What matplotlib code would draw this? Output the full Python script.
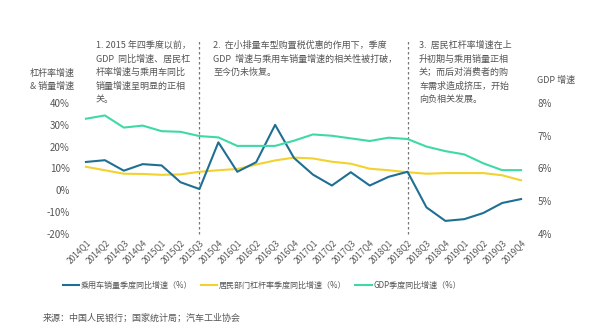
import matplotlib.pyplot as plt

plt.rcParams["font.family"] = ["Noto Sans CJK SC", "DejaVu Sans"]
plt.rcParams["axes.unicode_minus"] = False

# ── Data ───────────────────────────────────
quarters = [f"{y}Q{q}" for y in range(2014, 2020) for q in range(1, 5)]
car_sales = [13.0, 13.8, 9.0, 12.0, 11.4, 3.7, 0.6, 22.0, 8.5, 12.9, 30.0, 14.8,
             7.2, 2.2, 8.3, 2.2, 6.2, 8.5, -7.8, -14.0, -13.2, -10.4, -5.8, -4.0]
leverage = [10.8, 9.2, 7.6, 7.5, 7.1, 7.3, 8.5, 9.2, 9.8, 11.8, 13.7, 15.0,
            14.6, 13.1, 12.2, 9.9, 9.2, 8.3, 7.6, 7.9, 7.9, 7.9, 6.9, 4.6]
gdp = [7.52, 7.62, 7.25, 7.31, 7.14, 7.12, 6.99, 6.95, 6.69, 6.69, 6.69, 6.85,
       7.04, 7.00, 6.92, 6.84, 6.94, 6.90, 6.67, 6.53, 6.43, 6.16, 5.95, 5.95]
split_idx = [6, 17]

BLUE = "#1f6f93"
YELLOW = "#f2d22e"
GREEN = "#3fd9a6"
TXT = "#555555"

fig = plt.figure(figsize=(6.0, 3.27), dpi=100, facecolor="white")
ax = fig.add_axes([76.5 / 600, 1 - 234 / 327, 454 / 600, 131 / 327])
ax2 = ax.twinx()

x = list(range(len(quarters)))
l1, = ax.plot(x, car_sales, color=BLUE, lw=1.5, zorder=3)
l2, = ax.plot(x, leverage, color=YELLOW, lw=1.5, zorder=2)
l3, = ax2.plot(x, gdp, color=GREEN, lw=1.5, zorder=2)

ax.set_xlim(-0.5, len(quarters) - 0.5)
ax.set_ylim(-20, 40)
ax2.set_ylim(4, 8)
ax.set_yticks(range(-20, 41, 10))
ax.set_yticklabels([f"{v}%" for v in range(-20, 41, 10)])
ax2.set_yticks([4, 5, 6, 7, 8])
ax2.set_yticklabels([f"{v}%" for v in [4, 5, 6, 7, 8]])
ax.set_xticks(x)
ax.set_xticklabels(quarters, rotation=45, ha="right", rotation_mode="anchor")

for a in (ax, ax2):
    for s in a.spines.values():
        s.set_visible(False)
    a.tick_params(length=0, labelsize=7, colors=TXT, pad=5)
ax.tick_params(axis="x", labelsize=6, pad=3)

# dashed separators (extend above the plot)
for i in split_idx:
    ax.plot([i, i], [-20, 40 + 60 * 63 / 131], color="#777777", lw=0.9,
            ls=(0, (2, 2)), clip_on=False, zorder=1)

# axis headers
fig.text(52 / 600, 1 - 73 / 327, "杠杆率增速", fontsize=6.5, color=TXT, ha="center", va="center")
fig.text(52 / 600, 1 - 86 / 327, "& 销量增速", fontsize=6.5, color=TXT, ha="center", va="center")
fig.text(537 / 600, 1 - 80 / 327, "GDP 增速", fontsize=6.5, color=TXT, ha="left", va="center")

# annotations
notes = [
    (96, ["1. 2015 年四季度以前，", "GDP  同比增速、居民杠", "杆率增速与乘用车同比",
          "销量增速呈明显的正相", "关。"]),
    (213, ["2.  在小排量车型购置税优惠的作用下，季度",
           "GDP  增速与乘用车销量增速的相关性被打破，", "至今仍未恢复。"]),
    (419, ["3.  居民杠杆率增速在上", "升初期与乘用销量正相", "关；而后对消费者的购",
           "车需求造成挤压，开始", "向负相关发展。"]),
]
for x0, lines in notes:
    for k, line in enumerate(lines):
        fig.text(x0 / 600, 1 - (45.7 + 13.4 * k) / 327, line, fontsize=6.5,
                 color=TXT, ha="left", va="center")

# legend
fig.legend([l1, l2, l3],
           ["乘用车销量季度同比增速（%）", "居民部门杠杆率季度同比增速（%）", "GDP季度同比增速（%）"],
           loc="center", bbox_to_anchor=(262 / 600, 1 - 285 / 327), ncol=3, frameon=False,
           fontsize=5.8, labelcolor=TXT, handlelength=2.0, handletextpad=0.2,
           columnspacing=1.1)

fig.text(43 / 600, 1 - 318 / 327, "来源：中国人民银行；国家统计局；汽车工业协会",
         fontsize=6.5, color=TXT, ha="left", va="center")

fig.savefig("out.png", dpi=100, facecolor="white")
